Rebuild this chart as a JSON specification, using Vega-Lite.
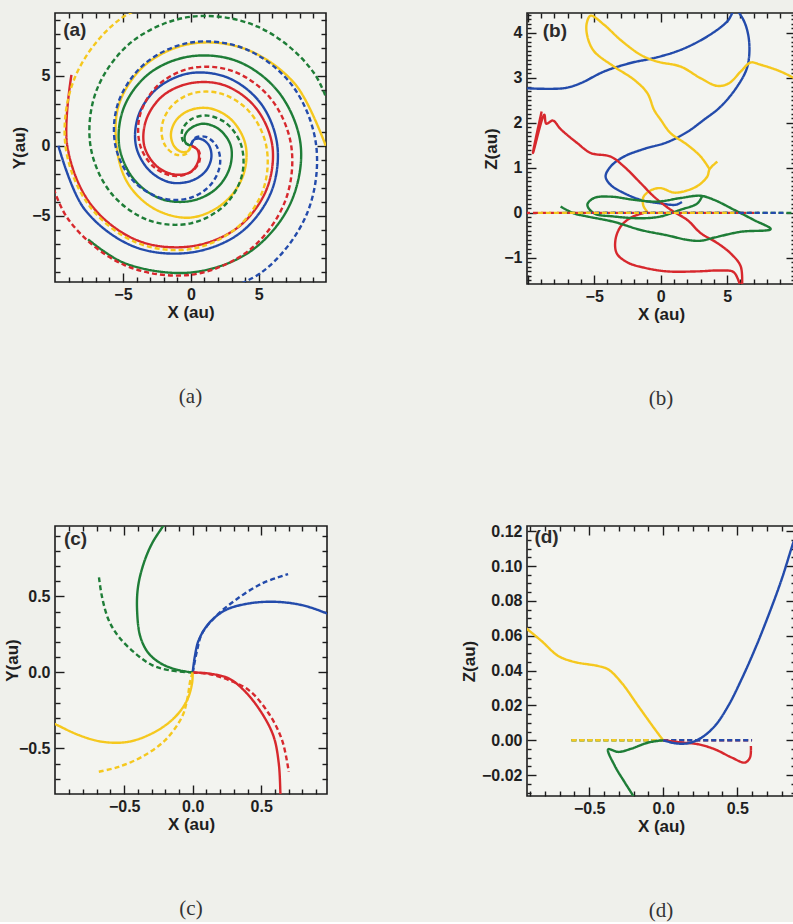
{
  "$schema": "https://vega.github.io/schema/vega-lite/v6.json",
  "background": "#eff0eb",
  "padding": {"left": 2, "top": 6, "right": 0, "bottom": 0},
  "columns": 2,
  "spacing": {"row": 112, "column": 130},
  "config": {
    "view": {"stroke": "#1c1c1c", "strokeWidth": 1.6, "fill": "#f3f4f0"},
    "axis": {
      "domain": false, "grid": false, "tickColor": "#1c1c1c", "tickWidth": 1.4,
      "labelFont": "Liberation Sans", "labelFontWeight": "bold", "labelFontSize": 16, "labelColor": "#1f1f1f",
      "labelPadding": 13, "labelFlush": false, "labelOverlap": false,
      "titleFont": "Liberation Sans", "titleFontWeight": "bold", "titleFontSize": 17, "titleColor": "#1f1f1f"
    },
    "axisX": {"titlePadding": -2},
    "axisY": {"titlePadding": 3, "labelPadding": 14},
    "line": {"strokeWidth": 2.4, "interpolate": "catmull-rom", "strokeCap": "butt"},
    "title": {"font": "Liberation Serif", "fontSize": 21, "fontWeight": "normal", "color": "#333333"},
    "text": {"font": "Liberation Sans", "fontWeight": "bold", "fontSize": 19, "color": "#2b2b2b"}
  },
  "datasets": {
    "xyWide": [
      {"track":"rs","color":"red","kind":"model","step":0,"x":0,"y":0},
      {"track":"rs","color":"red","kind":"model","step":1,"x":0.476,"y":-0.275},
      {"track":"rs","color":"red","kind":"model","step":2,"x":0.575,"y":-0.996},
      {"track":"rs","color":"red","kind":"model","step":3,"x":0,"y":-1.86},
      {"track":"rs","color":"red","kind":"model","step":4,"x":-1.19,"y":-2.061},
      {"track":"rs","color":"red","kind":"model","step":5,"x":-2.52,"y":-1.455},
      {"track":"rs","color":"red","kind":"model","step":6,"x":-3.43,"y":0},
      {"track":"rs","color":"red","kind":"model","step":7,"x":-3.273,"y":1.89},
      {"track":"rs","color":"red","kind":"model","step":8,"x":-2.065,"y":3.577},
      {"track":"rs","color":"red","kind":"model","step":9,"x":0,"y":4.48},
      {"track":"rs","color":"red","kind":"model","step":10,"x":2.495,"y":4.321},
      {"track":"rs","color":"red","kind":"model","step":11,"x":4.754,"y":2.745},
      {"track":"rs","color":"red","kind":"model","step":12,"x":6,"y":0},
      {"track":"rs","color":"red","kind":"model","step":13,"x":5.542,"y":-3.2},
      {"track":"rs","color":"red","kind":"model","step":14,"x":3.4,"y":-5.889},
      {"track":"rs","color":"red","kind":"model","step":15,"x":0,"y":-7.2},
      {"track":"rs","color":"red","kind":"model","step":16,"x":-3.915,"y":-6.781},
      {"track":"rs","color":"red","kind":"model","step":17,"x":-7.335,"y":-4.235},
      {"track":"rs","color":"red","kind":"model","step":18,"x":-9.1,"y":0},
      {"track":"rs","color":"red","kind":"model","step":19,"x":-8.79,"y":5.075},

      {"track":"bs","color":"blue","kind":"model","step":0,"x":0,"y":0},
      {"track":"bs","color":"blue","kind":"model","step":1,"x":0.26,"y":0.45},
      {"track":"bs","color":"blue","kind":"model","step":2,"x":0.805,"y":0.465},
      {"track":"bs","color":"blue","kind":"model","step":3,"x":1.35,"y":0},
      {"track":"bs","color":"blue","kind":"model","step":4,"x":1.507,"y":-0.87},
      {"track":"bs","color":"blue","kind":"model","step":5,"x":1.065,"y":-1.845},
      {"track":"bs","color":"blue","kind":"model","step":6,"x":0,"y":-2.52},
      {"track":"bs","color":"blue","kind":"model","step":7,"x":-1.515,"y":-2.624},
      {"track":"bs","color":"blue","kind":"model","step":8,"x":-3.057,"y":-1.765},
      {"track":"bs","color":"blue","kind":"model","step":9,"x":-4.04,"y":0},
      {"track":"bs","color":"blue","kind":"model","step":10,"x":-3.836,"y":2.215},
      {"track":"bs","color":"blue","kind":"model","step":11,"x":-2.405,"y":4.165},
      {"track":"bs","color":"blue","kind":"model","step":12,"x":0,"y":5.2},
      {"track":"bs","color":"blue","kind":"model","step":13,"x":2.795,"y":4.841},
      {"track":"bs","color":"blue","kind":"model","step":14,"x":5.179,"y":2.99},
      {"track":"bs","color":"blue","kind":"model","step":15,"x":6.37,"y":0},
      {"track":"bs","color":"blue","kind":"model","step":16,"x":5.88,"y":-3.395},
      {"track":"bs","color":"blue","kind":"model","step":17,"x":3.61,"y":-6.253},
      {"track":"bs","color":"blue","kind":"model","step":18,"x":0,"y":-7.64},
      {"track":"bs","color":"blue","kind":"model","step":19,"x":-4.17,"y":-7.223},
      {"track":"bs","color":"blue","kind":"model","step":20,"x":-7.837,"y":-4.525},
      {"track":"bs","color":"blue","kind":"model","step":21,"x":-9.75,"y":0},

      {"track":"gs","color":"green","kind":"model","step":0,"x":0,"y":0},
      {"track":"gs","color":"green","kind":"model","step":1,"x":-0.39,"y":0.225},
      {"track":"gs","color":"green","kind":"model","step":2,"x":-0.43,"y":0.745},
      {"track":"gs","color":"green","kind":"model","step":3,"x":0,"y":1.26},
      {"track":"gs","color":"green","kind":"model","step":4,"x":0.91,"y":1.576},
      {"track":"gs","color":"green","kind":"model","step":5,"x":2.061,"y":1.19},
      {"track":"gs","color":"green","kind":"model","step":6,"x":2.94,"y":0},
      {"track":"gs","color":"green","kind":"model","step":7,"x":2.84,"y":-1.64},
      {"track":"gs","color":"green","kind":"model","step":8,"x":1.805,"y":-3.126},
      {"track":"gs","color":"green","kind":"model","step":9,"x":0,"y":-3.95},
      {"track":"gs","color":"green","kind":"model","step":10,"x":-2.195,"y":-3.802},
      {"track":"gs","color":"green","kind":"model","step":11,"x":-4.183,"y":-2.415},
      {"track":"gs","color":"green","kind":"model","step":12,"x":-5.27,"y":0},
      {"track":"gs","color":"green","kind":"model","step":13,"x":-4.893,"y":2.825},
      {"track":"gs","color":"green","kind":"model","step":14,"x":-3.01,"y":5.213},
      {"track":"gs","color":"green","kind":"model","step":15,"x":0,"y":6.4},
      {"track":"gs","color":"green","kind":"model","step":16,"x":3.48,"y":6.027},
      {"track":"gs","color":"green","kind":"model","step":17,"x":6.521,"y":3.765},
      {"track":"gs","color":"green","kind":"model","step":18,"x":8.09,"y":0},
      {"track":"gs","color":"green","kind":"model","step":19,"x":7.292,"y":-4.21},
      {"track":"gs","color":"green","kind":"model","step":20,"x":4.37,"y":-7.569},
      {"track":"gs","color":"green","kind":"model","step":21,"x":0,"y":-9.07},
      {"track":"gs","color":"green","kind":"model","step":22,"x":-4.855,"y":-8.409},
      {"track":"gs","color":"green","kind":"model","step":23,"x":-7.56,"y":-6.7},

      {"track":"ys","color":"yellow","kind":"model","step":0,"x":0,"y":0},
      {"track":"ys","color":"yellow","kind":"model","step":1,"x":-0.225,"y":-0.39},
      {"track":"ys","color":"yellow","kind":"model","step":2,"x":-0.736,"y":-0.425},
      {"track":"ys","color":"yellow","kind":"model","step":3,"x":-1.25,"y":0},
      {"track":"ys","color":"yellow","kind":"model","step":4,"x":-1.464,"y":0.845},
      {"track":"ys","color":"yellow","kind":"model","step":5,"x":-1.065,"y":1.845},
      {"track":"ys","color":"yellow","kind":"model","step":6,"x":0,"y":2.57},
      {"track":"ys","color":"yellow","kind":"model","step":7,"x":1.53,"y":2.65},
      {"track":"ys","color":"yellow","kind":"model","step":8,"x":3.074,"y":1.775},
      {"track":"ys","color":"yellow","kind":"model","step":9,"x":4.04,"y":0},
      {"track":"ys","color":"yellow","kind":"model","step":10,"x":3.819,"y":-2.205},
      {"track":"ys","color":"yellow","kind":"model","step":11,"x":2.385,"y":-4.131},
      {"track":"ys","color":"yellow","kind":"model","step":12,"x":0,"y":-5.14},
      {"track":"ys","color":"yellow","kind":"model","step":13,"x":-2.625,"y":-4.547},
      {"track":"ys","color":"yellow","kind":"model","step":14,"x":-4.642,"y":-2.68},
      {"track":"ys","color":"yellow","kind":"model","step":15,"x":-5.47,"y":0},
      {"track":"ys","color":"yellow","kind":"model","step":16,"x":-5.265,"y":3.04},
      {"track":"ys","color":"yellow","kind":"model","step":17,"x":-3.345,"y":5.794},
      {"track":"ys","color":"yellow","kind":"model","step":18,"x":0,"y":7.3},
      {"track":"ys","color":"yellow","kind":"model","step":19,"x":4,"y":6.928},
      {"track":"ys","color":"yellow","kind":"model","step":20,"x":7.664,"y":4.425},
      {"track":"ys","color":"yellow","kind":"model","step":21,"x":9.93,"y":0},

      {"track":"rd","color":"red","kind":"parker","step":0,"x":0.04,"y":0},
      {"track":"rd","color":"red","kind":"parker","step":1,"x":0.563,"y":-0.325},
      {"track":"rd","color":"red","kind":"parker","step":2,"x":0.635,"y":-1.1},
      {"track":"rd","color":"red","kind":"parker","step":3,"x":0,"y":-1.88},
      {"track":"rd","color":"red","kind":"parker","step":4,"x":-1.245,"y":-2.156},
      {"track":"rd","color":"red","kind":"parker","step":5,"x":-2.685,"y":-1.55},
      {"track":"rd","color":"red","kind":"parker","step":6,"x":-3.72,"y":0},
      {"track":"rd","color":"red","kind":"parker","step":7,"x":-3.75,"y":2.165},
      {"track":"rd","color":"red","kind":"parker","step":8,"x":-2.47,"y":4.278},
      {"track":"rd","color":"red","kind":"parker","step":9,"x":0,"y":5.55},
      {"track":"rd","color":"red","kind":"parker","step":10,"x":3.085,"y":5.343},
      {"track":"rd","color":"red","kind":"parker","step":11,"x":5.872,"y":3.39},
      {"track":"rd","color":"red","kind":"parker","step":12,"x":7.39,"y":0},
      {"track":"rd","color":"red","kind":"parker","step":13,"x":6.928,"y":-4},
      {"track":"rd","color":"red","kind":"parker","step":14,"x":4.31,"y":-7.465},
      {"track":"rd","color":"red","kind":"parker","step":15,"x":0,"y":-9.23},
      {"track":"rd","color":"red","kind":"parker","step":16,"x":-4.92,"y":-8.522},
      {"track":"rd","color":"red","kind":"parker","step":17,"x":-9.05,"y":-5.225},
      {"track":"rd","color":"red","kind":"parker","step":18,"x":-11.07,"y":0},

      {"track":"bd","color":"blue","kind":"parker","step":0,"x":0,"y":0.04},
      {"track":"bd","color":"blue","kind":"parker","step":1,"x":0.325,"y":0.563},
      {"track":"bd","color":"blue","kind":"parker","step":2,"x":1.1,"y":0.635},
      {"track":"bd","color":"blue","kind":"parker","step":3,"x":1.88,"y":0},
      {"track":"bd","color":"blue","kind":"parker","step":4,"x":2.156,"y":-1.245},
      {"track":"bd","color":"blue","kind":"parker","step":5,"x":1.55,"y":-2.685},
      {"track":"bd","color":"blue","kind":"parker","step":6,"x":0,"y":-3.72},
      {"track":"bd","color":"blue","kind":"parker","step":7,"x":-2.165,"y":-3.75},
      {"track":"bd","color":"blue","kind":"parker","step":8,"x":-4.278,"y":-2.47},
      {"track":"bd","color":"blue","kind":"parker","step":9,"x":-5.55,"y":0},
      {"track":"bd","color":"blue","kind":"parker","step":10,"x":-5.343,"y":3.085},
      {"track":"bd","color":"blue","kind":"parker","step":11,"x":-3.39,"y":5.872},
      {"track":"bd","color":"blue","kind":"parker","step":12,"x":0,"y":7.39},
      {"track":"bd","color":"blue","kind":"parker","step":13,"x":4,"y":6.928},
      {"track":"bd","color":"blue","kind":"parker","step":14,"x":7.465,"y":4.31},
      {"track":"bd","color":"blue","kind":"parker","step":15,"x":9.23,"y":0},
      {"track":"bd","color":"blue","kind":"parker","step":16,"x":8.522,"y":-4.92},
      {"track":"bd","color":"blue","kind":"parker","step":17,"x":5.225,"y":-9.05},
      {"track":"bd","color":"blue","kind":"parker","step":18,"x":0,"y":-11.07},

      {"track":"gd","color":"green","kind":"parker","step":0,"x":-0.04,"y":0},
      {"track":"gd","color":"green","kind":"parker","step":1,"x":-0.563,"y":0.325},
      {"track":"gd","color":"green","kind":"parker","step":2,"x":-0.635,"y":1.1},
      {"track":"gd","color":"green","kind":"parker","step":3,"x":0,"y":1.88},
      {"track":"gd","color":"green","kind":"parker","step":4,"x":1.245,"y":2.156},
      {"track":"gd","color":"green","kind":"parker","step":5,"x":2.685,"y":1.55},
      {"track":"gd","color":"green","kind":"parker","step":6,"x":3.72,"y":0},
      {"track":"gd","color":"green","kind":"parker","step":7,"x":3.75,"y":-2.165},
      {"track":"gd","color":"green","kind":"parker","step":8,"x":2.47,"y":-4.278},
      {"track":"gd","color":"green","kind":"parker","step":9,"x":0,"y":-5.55},
      {"track":"gd","color":"green","kind":"parker","step":10,"x":-3.085,"y":-5.343},
      {"track":"gd","color":"green","kind":"parker","step":11,"x":-5.872,"y":-3.39},
      {"track":"gd","color":"green","kind":"parker","step":12,"x":-7.39,"y":0},
      {"track":"gd","color":"green","kind":"parker","step":13,"x":-6.928,"y":4},
      {"track":"gd","color":"green","kind":"parker","step":14,"x":-4.31,"y":7.465},
      {"track":"gd","color":"green","kind":"parker","step":15,"x":0,"y":9.23},
      {"track":"gd","color":"green","kind":"parker","step":16,"x":4.92,"y":8.522},
      {"track":"gd","color":"green","kind":"parker","step":17,"x":9.05,"y":5.225},
      {"track":"gd","color":"green","kind":"parker","step":18,"x":11.07,"y":0},

      {"track":"yd","color":"yellow","kind":"parker","step":0,"x":0,"y":-0.04},
      {"track":"yd","color":"yellow","kind":"parker","step":1,"x":-0.325,"y":-0.563},
      {"track":"yd","color":"yellow","kind":"parker","step":2,"x":-1.1,"y":-0.635},
      {"track":"yd","color":"yellow","kind":"parker","step":3,"x":-1.88,"y":0},
      {"track":"yd","color":"yellow","kind":"parker","step":4,"x":-2.156,"y":1.245},
      {"track":"yd","color":"yellow","kind":"parker","step":5,"x":-1.55,"y":2.685},
      {"track":"yd","color":"yellow","kind":"parker","step":6,"x":0,"y":3.72},
      {"track":"yd","color":"yellow","kind":"parker","step":7,"x":2.165,"y":3.75},
      {"track":"yd","color":"yellow","kind":"parker","step":8,"x":4.278,"y":2.47},
      {"track":"yd","color":"yellow","kind":"parker","step":9,"x":5.55,"y":0},
      {"track":"yd","color":"yellow","kind":"parker","step":10,"x":5.343,"y":-3.085},
      {"track":"yd","color":"yellow","kind":"parker","step":11,"x":3.39,"y":-5.872},
      {"track":"yd","color":"yellow","kind":"parker","step":12,"x":0,"y":-7.39},
      {"track":"yd","color":"yellow","kind":"parker","step":13,"x":-4,"y":-6.928},
      {"track":"yd","color":"yellow","kind":"parker","step":14,"x":-7.465,"y":-4.31},
      {"track":"yd","color":"yellow","kind":"parker","step":15,"x":-9.23,"y":0},
      {"track":"yd","color":"yellow","kind":"parker","step":16,"x":-8.522,"y":4.92},
      {"track":"yd","color":"yellow","kind":"parker","step":17,"x":-5.225,"y":9.05},
      {"track":"yd","color":"yellow","kind":"parker","step":18,"x":0,"y":11.07}
    ],
    "xzWide": [
      {"track":"b","color":"blue","kind":"model","step":0,"x":1.6,"z":0.24},
      {"track":"b","color":"blue","kind":"model","step":1,"x":1.13,"z":0.18},
      {"track":"b","color":"blue","kind":"model","step":2,"x":0,"z":0.21},
      {"track":"b","color":"blue","kind":"model","step":3,"x":-1.5,"z":0.29},
      {"track":"b","color":"blue","kind":"model","step":4,"x":-2.76,"z":0.44},
      {"track":"b","color":"blue","kind":"model","step":5,"x":-3.76,"z":0.62},
      {"track":"b","color":"blue","kind":"model","step":6,"x":-4.14,"z":0.81},
      {"track":"b","color":"blue","kind":"model","step":7,"x":-3.76,"z":1.03},
      {"track":"b","color":"blue","kind":"model","step":8,"x":-2.76,"z":1.25},
      {"track":"b","color":"blue","kind":"model","step":9,"x":-1.25,"z":1.42},
      {"track":"b","color":"blue","kind":"model","step":10,"x":0.5,"z":1.57},
      {"track":"b","color":"blue","kind":"model","step":11,"x":2.01,"z":1.8},
      {"track":"b","color":"blue","kind":"model","step":12,"x":3.26,"z":2.07},
      {"track":"b","color":"blue","kind":"model","step":13,"x":4.51,"z":2.36},
      {"track":"b","color":"blue","kind":"model","step":14,"x":5.76,"z":2.81},
      {"track":"b","color":"blue","kind":"model","step":15,"x":6.52,"z":3.25},
      {"track":"b","color":"blue","kind":"model","step":16,"x":6.64,"z":3.84},
      {"track":"b","color":"blue","kind":"model","step":17,"x":6.2,"z":4.3},
      {"track":"b","color":"blue","kind":"model","step":18,"x":5.6,"z":4.5},
      {"track":"b","color":"blue","kind":"model","step":19,"x":5.0,"z":4.25},
      {"track":"b","color":"blue","kind":"model","step":20,"x":3.51,"z":3.92},
      {"track":"b","color":"blue","kind":"model","step":21,"x":1.5,"z":3.62},
      {"track":"b","color":"blue","kind":"model","step":22,"x":-0.5,"z":3.44},
      {"track":"b","color":"blue","kind":"model","step":23,"x":-2.26,"z":3.33},
      {"track":"b","color":"blue","kind":"model","step":24,"x":-4.26,"z":3.14},
      {"track":"b","color":"blue","kind":"model","step":25,"x":-6.02,"z":2.88},
      {"track":"b","color":"blue","kind":"model","step":26,"x":-7.27,"z":2.77},
      {"track":"b","color":"blue","kind":"model","step":27,"x":-10.3,"z":2.77},

      {"track":"y1","color":"yellow","kind":"model","step":0,"x":-1.0,"z":0.02},
      {"track":"y1","color":"yellow","kind":"model","step":1,"x":-1.3,"z":0.16},
      {"track":"y1","color":"yellow","kind":"model","step":2,"x":-1.3,"z":0.35},
      {"track":"y1","color":"yellow","kind":"model","step":3,"x":-0.75,"z":0.5},
      {"track":"y1","color":"yellow","kind":"model","step":4,"x":0,"z":0.55},
      {"track":"y1","color":"yellow","kind":"model","step":5,"x":1.0,"z":0.45},
      {"track":"y1","color":"yellow","kind":"model","step":6,"x":2.01,"z":0.5},
      {"track":"y1","color":"yellow","kind":"model","step":7,"x":2.88,"z":0.62},
      {"track":"y1","color":"yellow","kind":"model","step":8,"x":3.51,"z":0.81},
      {"track":"y1","color":"yellow","kind":"model","step":9,"x":3.68,"z":0.97},
      {"track":"y1","color":"yellow","kind":"model","step":10,"x":4.26,"z":1.14},

      {"track":"y2","color":"yellow","kind":"model","step":0,"x":3.68,"z":0.97},
      {"track":"y2","color":"yellow","kind":"model","step":1,"x":3.01,"z":1.25},
      {"track":"y2","color":"yellow","kind":"model","step":2,"x":2.01,"z":1.51},
      {"track":"y2","color":"yellow","kind":"model","step":3,"x":0.75,"z":1.77},
      {"track":"y2","color":"yellow","kind":"model","step":4,"x":0,"z":2.07},
      {"track":"y2","color":"yellow","kind":"model","step":5,"x":-0.5,"z":2.29},
      {"track":"y2","color":"yellow","kind":"model","step":6,"x":-1.0,"z":2.66},
      {"track":"y2","color":"yellow","kind":"model","step":7,"x":-2.01,"z":2.96},
      {"track":"y2","color":"yellow","kind":"model","step":8,"x":-3.51,"z":3.25},
      {"track":"y2","color":"yellow","kind":"model","step":9,"x":-5.01,"z":3.59},
      {"track":"y2","color":"yellow","kind":"model","step":10,"x":-5.51,"z":3.92},
      {"track":"y2","color":"yellow","kind":"model","step":11,"x":-5.56,"z":4.21},
      {"track":"y2","color":"yellow","kind":"model","step":12,"x":-5.26,"z":4.38},
      {"track":"y2","color":"yellow","kind":"model","step":13,"x":-4.26,"z":4.18},
      {"track":"y2","color":"yellow","kind":"model","step":14,"x":-3.01,"z":3.84},
      {"track":"y2","color":"yellow","kind":"model","step":15,"x":-1.5,"z":3.51},
      {"track":"y2","color":"yellow","kind":"model","step":16,"x":-0.25,"z":3.36},
      {"track":"y2","color":"yellow","kind":"model","step":17,"x":1.5,"z":3.25},
      {"track":"y2","color":"yellow","kind":"model","step":18,"x":3.01,"z":2.99},
      {"track":"y2","color":"yellow","kind":"model","step":19,"x":4.26,"z":2.82},
      {"track":"y2","color":"yellow","kind":"model","step":20,"x":5.14,"z":2.88},
      {"track":"y2","color":"yellow","kind":"model","step":21,"x":6.02,"z":3.14},
      {"track":"y2","color":"yellow","kind":"model","step":22,"x":6.77,"z":3.34},
      {"track":"y2","color":"yellow","kind":"model","step":23,"x":7.52,"z":3.29},
      {"track":"y2","color":"yellow","kind":"model","step":24,"x":9.02,"z":3.14},
      {"track":"y2","color":"yellow","kind":"model","step":25,"x":10.3,"z":2.95},

      {"track":"r1","color":"red","kind":"model","step":0,"x":-8.95,"z":2.25},
      {"track":"r1","color":"red","kind":"model","step":1,"x":-9.6,"z":1.33},
      {"track":"r1","color":"red","kind":"model","step":2,"x":-8.75,"z":2.18},
      {"track":"r1","color":"red","kind":"model","step":3,"x":-8.6,"z":1.98},
      {"track":"r1","color":"red","kind":"model","step":4,"x":-8.1,"z":2.05},
      {"track":"r1","color":"red","kind":"model","step":5,"x":-7.52,"z":1.86},
      {"track":"r1","color":"red","kind":"model","step":6,"x":-6.27,"z":1.55},
      {"track":"r1","color":"red","kind":"model","step":7,"x":-5.26,"z":1.33},
      {"track":"r1","color":"red","kind":"model","step":8,"x":-3.76,"z":1.25},
      {"track":"r1","color":"red","kind":"model","step":9,"x":-2.76,"z":1.03},
      {"track":"r1","color":"red","kind":"model","step":10,"x":-1.5,"z":0.66},
      {"track":"r1","color":"red","kind":"model","step":11,"x":-0.5,"z":0.36},
      {"track":"r1","color":"red","kind":"model","step":12,"x":0.75,"z":0.07},
      {"track":"r1","color":"red","kind":"model","step":13,"x":2.01,"z":-0.16},
      {"track":"r1","color":"red","kind":"model","step":14,"x":3.01,"z":-0.45},
      {"track":"r1","color":"red","kind":"model","step":15,"x":4.26,"z":-0.67},
      {"track":"r1","color":"red","kind":"model","step":16,"x":5.26,"z":-0.9},
      {"track":"r1","color":"red","kind":"model","step":17,"x":6.02,"z":-1.19},
      {"track":"r1","color":"red","kind":"model","step":18,"x":6.1,"z":-1.75},

      {"track":"r2","color":"red","kind":"model","step":0,"x":-1.0,"z":0.02},
      {"track":"r2","color":"red","kind":"model","step":1,"x":-2.2,"z":-0.1},
      {"track":"r2","color":"red","kind":"model","step":2,"x":-3.0,"z":-0.3},
      {"track":"r2","color":"red","kind":"model","step":3,"x":-3.4,"z":-0.6},
      {"track":"r2","color":"red","kind":"model","step":4,"x":-3.3,"z":-0.9},
      {"track":"r2","color":"red","kind":"model","step":5,"x":-2.5,"z":-1.1},
      {"track":"r2","color":"red","kind":"model","step":6,"x":-1.2,"z":-1.22},
      {"track":"r2","color":"red","kind":"model","step":7,"x":0.5,"z":-1.3},
      {"track":"r2","color":"red","kind":"model","step":8,"x":2.76,"z":-1.3},
      {"track":"r2","color":"red","kind":"model","step":9,"x":4.5,"z":-1.28},
      {"track":"r2","color":"red","kind":"model","step":10,"x":5.5,"z":-1.32},
      {"track":"r2","color":"red","kind":"model","step":11,"x":6.1,"z":-1.75},

      {"track":"g","color":"green","kind":"model","step":0,"x":-7.52,"z":0.14},
      {"track":"g","color":"green","kind":"model","step":1,"x":-6.52,"z":-0.01},
      {"track":"g","color":"green","kind":"model","step":2,"x":-5.51,"z":-0.08},
      {"track":"g","color":"green","kind":"model","step":3,"x":-3.51,"z":-0.2},
      {"track":"g","color":"green","kind":"model","step":4,"x":-1.5,"z":-0.38},
      {"track":"g","color":"green","kind":"model","step":5,"x":0.5,"z":-0.5},
      {"track":"g","color":"green","kind":"model","step":6,"x":2.01,"z":-0.6},
      {"track":"g","color":"green","kind":"model","step":7,"x":3.0,"z":-0.62},
      {"track":"g","color":"green","kind":"model","step":8,"x":4.01,"z":-0.55},
      {"track":"g","color":"green","kind":"model","step":9,"x":6.02,"z":-0.42},
      {"track":"g","color":"green","kind":"model","step":10,"x":8.27,"z":-0.36},
      {"track":"g","color":"green","kind":"model","step":11,"x":7.02,"z":-0.16},
      {"track":"g","color":"green","kind":"model","step":12,"x":5.51,"z":0.07},
      {"track":"g","color":"green","kind":"model","step":13,"x":4.01,"z":0.29},
      {"track":"g","color":"green","kind":"model","step":14,"x":3.01,"z":0.38},
      {"track":"g","color":"green","kind":"model","step":15,"x":1.5,"z":0.33},
      {"track":"g","color":"green","kind":"model","step":16,"x":-0.25,"z":0.25},
      {"track":"g","color":"green","kind":"model","step":17,"x":-2.01,"z":0.29},
      {"track":"g","color":"green","kind":"model","step":18,"x":-3.76,"z":0.36},
      {"track":"g","color":"green","kind":"model","step":19,"x":-5.01,"z":0.33},
      {"track":"g","color":"green","kind":"model","step":20,"x":-5.51,"z":0.18},
      {"track":"g","color":"green","kind":"model","step":21,"x":-5.01,"z":-0.01},
      {"track":"g","color":"green","kind":"model","step":22,"x":-3.51,"z":-0.08},
      {"track":"g","color":"green","kind":"model","step":23,"x":-1.5,"z":-0.12},
      {"track":"g","color":"green","kind":"model","step":24,"x":0,"z":-0.08},
      {"track":"g","color":"green","kind":"model","step":25,"x":1.5,"z":0.07},
      {"track":"g","color":"green","kind":"model","step":26,"x":2.76,"z":0.21},
      {"track":"g","color":"green","kind":"model","step":27,"x":3.13,"z":0.38},

      {"track":"rp","color":"red","kind":"parker","step":0,"x":-10.2,"z":0},
      {"track":"rp","color":"red","kind":"parker","step":1,"x":7.39,"z":0},
      {"track":"gp","color":"green","kind":"parker","step":0,"x":-7.39,"z":0},
      {"track":"gp","color":"green","kind":"parker","step":1,"x":10.2,"z":0},
      {"track":"bp","color":"blue","kind":"parker","step":0,"x":-5.55,"z":0},
      {"track":"bp","color":"blue","kind":"parker","step":1,"x":9.23,"z":0},
      {"track":"yp","color":"yellow","kind":"parker","step":0,"x":-9.23,"z":0},
      {"track":"yp","color":"yellow","kind":"parker","step":1,"x":5.55,"z":0}
    ],
    "xyInner": [
      {"track":"bs","color":"blue","kind":"model","step":0,"x":0,"y":0},
      {"track":"bs","color":"blue","kind":"model","step":1,"x":0.015,"y":0.103},
      {"track":"bs","color":"blue","kind":"model","step":2,"x":0.044,"y":0.213},
      {"track":"bs","color":"blue","kind":"model","step":3,"x":0.117,"y":0.322},
      {"track":"bs","color":"blue","kind":"model","step":4,"x":0.238,"y":0.41},
      {"track":"bs","color":"blue","kind":"model","step":5,"x":0.409,"y":0.454},
      {"track":"bs","color":"blue","kind":"model","step":6,"x":0.603,"y":0.465},
      {"track":"bs","color":"blue","kind":"model","step":7,"x":0.798,"y":0.443},
      {"track":"bs","color":"blue","kind":"model","step":8,"x":0.981,"y":0.388},
      {"track":"bs","color":"blue","kind":"model","step":9,"x":1.05,"y":0.36},
      {"track":"rs","color":"red","kind":"model","step":0,"x":0,"y":0},
      {"track":"rs","color":"red","kind":"model","step":1,"x":0.117,"y":-0.007},
      {"track":"rs","color":"red","kind":"model","step":2,"x":0.263,"y":-0.039},
      {"track":"rs","color":"red","kind":"model","step":3,"x":0.384,"y":-0.127},
      {"track":"rs","color":"red","kind":"model","step":4,"x":0.506,"y":-0.27},
      {"track":"rs","color":"red","kind":"model","step":5,"x":0.591,"y":-0.423},
      {"track":"rs","color":"red","kind":"model","step":6,"x":0.628,"y":-0.599},
      {"track":"rs","color":"red","kind":"model","step":7,"x":0.64,"y":-0.796},
      {"track":"rs","color":"red","kind":"model","step":8,"x":0.642,"y":-0.85},
      {"track":"gs","color":"green","kind":"model","step":0,"x":0,"y":0},
      {"track":"gs","color":"green","kind":"model","step":1,"x":-0.102,"y":0.015},
      {"track":"gs","color":"green","kind":"model","step":2,"x":-0.224,"y":0.055},
      {"track":"gs","color":"green","kind":"model","step":3,"x":-0.321,"y":0.125},
      {"track":"gs","color":"green","kind":"model","step":4,"x":-0.382,"y":0.235},
      {"track":"gs","color":"green","kind":"model","step":5,"x":-0.406,"y":0.41},
      {"track":"gs","color":"green","kind":"model","step":6,"x":-0.399,"y":0.564},
      {"track":"gs","color":"green","kind":"model","step":7,"x":-0.358,"y":0.717},
      {"track":"gs","color":"green","kind":"model","step":8,"x":-0.297,"y":0.849},
      {"track":"gs","color":"green","kind":"model","step":9,"x":-0.212,"y":0.969},
      {"track":"gs","color":"green","kind":"model","step":10,"x":-0.19,"y":1.0},
      {"track":"ys","color":"yellow","kind":"model","step":0,"x":0,"y":0},
      {"track":"ys","color":"yellow","kind":"model","step":1,"x":-0.005,"y":-0.072},
      {"track":"ys","color":"yellow","kind":"model","step":2,"x":-0.041,"y":-0.182},
      {"track":"ys","color":"yellow","kind":"model","step":3,"x":-0.127,"y":-0.292},
      {"track":"ys","color":"yellow","kind":"model","step":4,"x":-0.273,"y":-0.39},
      {"track":"ys","color":"yellow","kind":"model","step":5,"x":-0.467,"y":-0.456},
      {"track":"ys","color":"yellow","kind":"model","step":6,"x":-0.662,"y":-0.456},
      {"track":"ys","color":"yellow","kind":"model","step":7,"x":-0.832,"y":-0.412},
      {"track":"ys","color":"yellow","kind":"model","step":8,"x":-0.99,"y":-0.346},
      {"track":"ys","color":"yellow","kind":"model","step":9,"x":-1.05,"y":-0.32},
      {"track":"bd","color":"blue","kind":"parker","step":0,"x":0,"y":0},
      {"track":"bd","color":"blue","kind":"parker","step":1,"x":0.032,"y":0.147},
      {"track":"bd","color":"blue","kind":"parker","step":2,"x":0.068,"y":0.257},
      {"track":"bd","color":"blue","kind":"parker","step":3,"x":0.165,"y":0.366},
      {"track":"bd","color":"blue","kind":"parker","step":4,"x":0.311,"y":0.476},
      {"track":"bd","color":"blue","kind":"parker","step":5,"x":0.506,"y":0.586},
      {"track":"bd","color":"blue","kind":"parker","step":6,"x":0.696,"y":0.647},
      {"track":"rd","color":"red","kind":"parker","step":0,"x":0,"y":0},
      {"track":"rd","color":"red","kind":"parker","step":1,"x":0.12,"y":-0.01},
      {"track":"rd","color":"red","kind":"parker","step":2,"x":0.263,"y":-0.05},
      {"track":"rd","color":"red","kind":"parker","step":3,"x":0.409,"y":-0.116},
      {"track":"rd","color":"red","kind":"parker","step":4,"x":0.555,"y":-0.27},
      {"track":"rd","color":"red","kind":"parker","step":5,"x":0.652,"y":-0.445},
      {"track":"rd","color":"red","kind":"parker","step":6,"x":0.701,"y":-0.654},
      {"track":"gd","color":"green","kind":"parker","step":0,"x":0,"y":0},
      {"track":"gd","color":"green","kind":"parker","step":1,"x":-0.175,"y":0.015},
      {"track":"gd","color":"green","kind":"parker","step":2,"x":-0.297,"y":0.048},
      {"track":"gd","color":"green","kind":"parker","step":3,"x":-0.418,"y":0.125},
      {"track":"gd","color":"green","kind":"parker","step":4,"x":-0.54,"y":0.235},
      {"track":"gd","color":"green","kind":"parker","step":5,"x":-0.613,"y":0.344},
      {"track":"gd","color":"green","kind":"parker","step":6,"x":-0.662,"y":0.498},
      {"track":"gd","color":"green","kind":"parker","step":7,"x":-0.686,"y":0.64},
      {"track":"yd","color":"yellow","kind":"parker","step":0,"x":0,"y":0},
      {"track":"yd","color":"yellow","kind":"parker","step":1,"x":-0.017,"y":-0.05},
      {"track":"yd","color":"yellow","kind":"parker","step":2,"x":-0.041,"y":-0.182},
      {"track":"yd","color":"yellow","kind":"parker","step":3,"x":-0.078,"y":-0.292},
      {"track":"yd","color":"yellow","kind":"parker","step":4,"x":-0.2,"y":-0.445},
      {"track":"yd","color":"yellow","kind":"parker","step":5,"x":-0.37,"y":-0.555},
      {"track":"yd","color":"yellow","kind":"parker","step":6,"x":-0.54,"y":-0.621},
      {"track":"yd","color":"yellow","kind":"parker","step":7,"x":-0.686,"y":-0.654}
    ],
    "xzInner": [
      {"track":"gp","color":"green","kind":"parker","step":0,"x":-0.62,"z":0},
      {"track":"gp","color":"green","kind":"parker","step":1,"x":0,"z":0},
      {"track":"rp","color":"red","kind":"parker","step":0,"x":0,"z":0},
      {"track":"rp","color":"red","kind":"parker","step":1,"x":0.6,"z":0},
      {"track":"yp","color":"yellow","kind":"parker","step":0,"x":-0.62,"z":0},
      {"track":"yp","color":"yellow","kind":"parker","step":1,"x":0,"z":0},
      {"track":"bp","color":"blue","kind":"parker","step":0,"x":0,"z":0},
      {"track":"bp","color":"blue","kind":"parker","step":1,"x":0.6,"z":0},
      {"track":"ys","color":"yellow","kind":"model","step":0,"x":-0.95,"z":0.066},
      {"track":"ys","color":"yellow","kind":"model","step":1,"x":-0.822,"z":0.057},
      {"track":"ys","color":"yellow","kind":"model","step":2,"x":-0.709,"z":0.0484},
      {"track":"ys","color":"yellow","kind":"model","step":3,"x":-0.597,"z":0.0449},
      {"track":"ys","color":"yellow","kind":"model","step":4,"x":-0.439,"z":0.0426},
      {"track":"ys","color":"yellow","kind":"model","step":5,"x":-0.372,"z":0.0407},
      {"track":"ys","color":"yellow","kind":"model","step":6,"x":-0.282,"z":0.0331},
      {"track":"ys","color":"yellow","kind":"model","step":7,"x":-0.169,"z":0.0197},
      {"track":"ys","color":"yellow","kind":"model","step":8,"x":-0.056,"z":0.0063},
      {"track":"ys","color":"yellow","kind":"model","step":9,"x":0,"z":0},
      {"track":"gs","color":"green","kind":"model","step":0,"x":0,"z":0},
      {"track":"gs","color":"green","kind":"model","step":1,"x":-0.101,"z":-0.0013},
      {"track":"gs","color":"green","kind":"model","step":2,"x":-0.214,"z":-0.0048},
      {"track":"gs","color":"green","kind":"model","step":3,"x":-0.304,"z":-0.0067},
      {"track":"gs","color":"green","kind":"model","step":4,"x":-0.372,"z":-0.0052},
      {"track":"gs","color":"green","kind":"model","step":5,"x":-0.327,"z":-0.0147},
      {"track":"gs","color":"green","kind":"model","step":6,"x":-0.259,"z":-0.0243},
      {"track":"gs","color":"green","kind":"model","step":7,"x":-0.203,"z":-0.0319},
      {"track":"gs","color":"green","kind":"model","step":8,"x":-0.19,"z":-0.034},
      {"track":"rs","color":"red","kind":"model","step":0,"x":0,"z":0},
      {"track":"rs","color":"red","kind":"model","step":1,"x":0.124,"z":-0.0013},
      {"track":"rs","color":"red","kind":"model","step":2,"x":0.236,"z":-0.0023},
      {"track":"rs","color":"red","kind":"model","step":3,"x":0.349,"z":-0.0052},
      {"track":"rs","color":"red","kind":"model","step":4,"x":0.462,"z":-0.0099},
      {"track":"rs","color":"red","kind":"model","step":5,"x":0.552,"z":-0.0128},
      {"track":"rs","color":"red","kind":"model","step":6,"x":0.586,"z":-0.0099},
      {"track":"rs","color":"red","kind":"model","step":7,"x":0.592,"z":-0.0033},
      {"track":"bs","color":"blue","kind":"model","step":0,"x":0,"z":0},
      {"track":"bs","color":"blue","kind":"model","step":1,"x":0.079,"z":-0.0017},
      {"track":"bs","color":"blue","kind":"model","step":2,"x":0.169,"z":-0.0017},
      {"track":"bs","color":"blue","kind":"model","step":3,"x":0.259,"z":0.0015},
      {"track":"bs","color":"blue","kind":"model","step":4,"x":0.349,"z":0.0082},
      {"track":"bs","color":"blue","kind":"model","step":5,"x":0.439,"z":0.0197},
      {"track":"bs","color":"blue","kind":"model","step":6,"x":0.529,"z":0.035},
      {"track":"bs","color":"blue","kind":"model","step":7,"x":0.619,"z":0.0522},
      {"track":"bs","color":"blue","kind":"model","step":8,"x":0.709,"z":0.0713},
      {"track":"bs","color":"blue","kind":"model","step":9,"x":0.8,"z":0.0924},
      {"track":"bs","color":"blue","kind":"model","step":10,"x":0.878,"z":0.1134},
      {"track":"bs","color":"blue","kind":"model","step":11,"x":0.91,"z":0.121}
    ]
  },
  "concat": [
    {
      "width": 271, "height": 269,
      "title": {"text": "(a)", "orient": "bottom", "offset": 66},
      "resolve": {"axis": {"x": "independent", "y": "independent"}},
      "layer": [
        {
          "data": {"name": "xyWide"},
          "mark": {"type": "line", "clip": true},
          "encoding": {
            "x": {"field": "x", "type": "quantitative", "scale": {"domain": [-10, 9.95], "nice": false, "zero": false},
              "axis": {"orient": "bottom", "title": "X (au)", "format": "d", "values": [-9,-8,-7,-6,-5,-4,-3,-2,-1,0,1,2,3,4,5,6,7,8,9],
                "tickSize": {"condition": {"test": "datum.value % 5 === 0", "value": -9}, "value": -5},
                "labelExpr": "datum.value % 5 === 0 ? datum.label : ''"}},
            "y": {"field": "y", "type": "quantitative", "scale": {"domain": [-9.75, 9.5], "nice": false, "zero": false},
              "axis": {"orient": "left", "title": "Y(au)", "format": "d", "values": [-9,-8,-7,-6,-5,-4,-3,-2,-1,0,1,2,3,4,5,6,7,8,9],
                "tickSize": {"condition": {"test": "datum.value % 5 === 0", "value": -9}, "value": -5},
                "labelExpr": "datum.value % 5 === 0 ? datum.label : ''"}},
            "color": {"field": "color", "type": "nominal", "scale": {"domain": ["red","blue","green","yellow"], "range": ["#d7282d","#234bab","#1e7d37","#f5c81e"]}, "legend": null},
            "strokeDash": {"field": "kind", "type": "nominal", "scale": {"domain": ["model","parker"], "range": [[1,0],[5,3]]}, "legend": null},
            "detail": {"field": "track", "type": "nominal"},
            "order": {"field": "step", "type": "quantitative"}
          }
        },
        {
          "data": {"name": "xyWide"},
          "mark": {"type": "point", "opacity": 0, "clip": true},
          "encoding": {
            "x": {"field": "x", "type": "quantitative", "scale": {"domain": [-10, 9.95], "nice": false, "zero": false},
              "axis": {"orient": "top", "labels": false, "title": null, "values": [-9,-8,-7,-6,-5,-4,-3,-2,-1,0,1,2,3,4,5,6,7,8,9],
                "tickSize": {"condition": {"test": "datum.value % 5 === 0", "value": -9}, "value": -5}}},
            "y": {"field": "y", "type": "quantitative", "scale": {"domain": [-9.75, 9.5], "nice": false, "zero": false},
              "axis": {"orient": "right", "labels": false, "title": null, "values": [-9,-8,-7,-6,-5,-4,-3,-2,-1,0,1,2,3,4,5,6,7,8,9],
                "tickSize": {"condition": {"test": "datum.value % 5 === 0", "value": -9}, "value": -5}}}
          }
        },
        {
          "data": {"values": [{"label": "(a)"}]},
          "mark": {"type": "text", "align": "left", "baseline": "middle"},
          "encoding": {
            "x": {"datum": -9.4, "type": "quantitative", "axis": null},
            "y": {"datum": 8.3, "type": "quantitative", "axis": null},
            "text": {"field": "label"}
          }
        }
      ]
    },
    {
      "width": 268, "height": 271,
      "title": {"text": "(b)", "orient": "bottom", "offset": 66},
      "resolve": {"axis": {"x": "independent", "y": "independent"}},
      "layer": [
        {
          "data": {"name": "xzWide"},
          "mark": {"type": "line", "clip": true},
          "encoding": {
            "x": {"field": "x", "type": "quantitative", "scale": {"domain": [-10.05, 10.1], "nice": false, "zero": false},
              "axis": {"orient": "bottom", "title": "X (au)", "format": "d", "values": [-10,-9,-8,-7,-6,-5,-4,-3,-2,-1,0,1,2,3,4,5,6,7,8,9,10],
                "tickSize": {"condition": {"test": "datum.value % 5 === 0", "value": -9}, "value": -5},
                "labelExpr": "abs(datum.value) < 9.5 && datum.value % 5 === 0 ? datum.label : ''"}},
            "y": {"field": "z", "type": "quantitative", "scale": {"domain": [-1.58, 4.44], "nice": false, "zero": false},
              "axis": {"orient": "left", "title": "Z(au)", "format": ".0f",
                "values": [-1.5,-1.4,-1.3,-1.2,-1.1,-1,-0.9,-0.8,-0.7,-0.6,-0.5,-0.4,-0.3,-0.2,-0.1,0,0.1,0.2,0.3,0.4,0.5,0.6,0.7,0.8,0.9,1,1.1,1.2,1.3,1.4,1.5,1.6,1.7,1.8,1.9,2,2.1,2.2,2.3,2.4,2.5,2.6,2.7,2.8,2.9,3,3.1,3.2,3.3,3.4,3.5,3.6,3.7,3.8,3.9,4,4.1,4.2,4.3,4.4],
                "tickSize": {"condition": {"test": "datum.value % 1 === 0", "value": -9}, "value": -4},
                "labelExpr": "datum.value % 1 === 0 ? datum.label : ''"}},
            "color": {"field": "color", "type": "nominal", "scale": {"domain": ["red","blue","green","yellow"], "range": ["#d7282d","#234bab","#1e7d37","#f5c81e"]}, "legend": null},
            "strokeDash": {"field": "kind", "type": "nominal", "scale": {"domain": ["model","parker"], "range": [[1,0],[5,3]]}, "legend": null},
            "detail": {"field": "track", "type": "nominal"},
            "order": {"field": "step", "type": "quantitative"}
          }
        },
        {
          "data": {"name": "xzWide"},
          "mark": {"type": "point", "opacity": 0, "clip": true},
          "encoding": {
            "x": {"field": "x", "type": "quantitative", "scale": {"domain": [-10.05, 10.1], "nice": false, "zero": false},
              "axis": {"orient": "top", "labels": false, "title": null, "values": [-10,-9,-8,-7,-6,-5,-4,-3,-2,-1,0,1,2,3,4,5,6,7,8,9,10],
                "tickSize": {"condition": {"test": "datum.value % 5 === 0", "value": -9}, "value": -5}}},
            "y": {"field": "z", "type": "quantitative", "scale": {"domain": [-1.58, 4.44], "nice": false, "zero": false},
              "axis": {"orient": "right", "labels": false, "title": null,
                "values": [-1.5,-1.4,-1.3,-1.2,-1.1,-1,-0.9,-0.8,-0.7,-0.6,-0.5,-0.4,-0.3,-0.2,-0.1,0,0.1,0.2,0.3,0.4,0.5,0.6,0.7,0.8,0.9,1,1.1,1.2,1.3,1.4,1.5,1.6,1.7,1.8,1.9,2,2.1,2.2,2.3,2.4,2.5,2.6,2.7,2.8,2.9,3,3.1,3.2,3.3,3.4,3.5,3.6,3.7,3.8,3.9,4,4.1,4.2,4.3,4.4],
                "tickSize": {"condition": {"test": "datum.value % 1 === 0", "value": -9}, "value": -4}}}
          }
        },
        {
          "data": {"values": [{"label": "(b)"}]},
          "mark": {"type": "text", "align": "left", "baseline": "middle"},
          "encoding": {
            "x": {"datum": -8.87, "type": "quantitative", "axis": null},
            "y": {"datum": 4.04, "type": "quantitative", "axis": null},
            "text": {"field": "label"}
          }
        }
      ]
    },
    {
      "width": 272, "height": 268,
      "title": {"text": "(c)", "orient": "bottom", "offset": 66},
      "resolve": {"axis": {"x": "independent", "y": "independent"}},
      "layer": [
        {
          "data": {"name": "xyInner"},
          "mark": {"type": "line", "clip": true},
          "encoding": {
            "x": {"field": "x", "type": "quantitative", "scale": {"domain": [-1.005, 0.98], "nice": false, "zero": false},
              "axis": {"orient": "bottom", "title": "X (au)", "format": ".1f", "values": [-0.9,-0.8,-0.7,-0.6,-0.5,-0.4,-0.3,-0.2,-0.1,0,0.1,0.2,0.3,0.4,0.5,0.6,0.7,0.8,0.9],
                "tickSize": {"condition": {"test": "abs(datum.value*2 - round(datum.value*2)) < 0.001", "value": -9}, "value": -5},
                "labelExpr": "abs(datum.value*2 - round(datum.value*2)) < 0.001 ? datum.label : ''"}},
            "y": {"field": "y", "type": "quantitative", "scale": {"domain": [-0.8, 0.964], "nice": false, "zero": false},
              "axis": {"orient": "left", "title": "Y(au)", "titlePadding": -3, "format": ".1f", "values": [-0.7,-0.6,-0.5,-0.4,-0.3,-0.2,-0.1,0,0.1,0.2,0.3,0.4,0.5,0.6,0.7,0.8,0.9],
                "tickSize": {"condition": {"test": "abs(datum.value*2 - round(datum.value*2)) < 0.001", "value": -9}, "value": -5},
                "labelExpr": "abs(datum.value*2 - round(datum.value*2)) < 0.001 ? datum.label : ''"}},
            "color": {"field": "color", "type": "nominal", "scale": {"domain": ["red","blue","green","yellow"], "range": ["#d7282d","#234bab","#1e7d37","#f5c81e"]}, "legend": null},
            "strokeDash": {"field": "kind", "type": "nominal", "scale": {"domain": ["model","parker"], "range": [[1,0],[5,3]]}, "legend": null},
            "detail": {"field": "track", "type": "nominal"},
            "order": {"field": "step", "type": "quantitative"}
          }
        },
        {
          "data": {"name": "xyInner"},
          "mark": {"type": "point", "opacity": 0, "clip": true},
          "encoding": {
            "x": {"field": "x", "type": "quantitative", "scale": {"domain": [-1.005, 0.98], "nice": false, "zero": false},
              "axis": {"orient": "top", "labels": false, "title": null, "values": [-0.9,-0.8,-0.7,-0.6,-0.5,-0.4,-0.3,-0.2,-0.1,0,0.1,0.2,0.3,0.4,0.5,0.6,0.7,0.8,0.9],
                "tickSize": {"condition": {"test": "abs(datum.value*2 - round(datum.value*2)) < 0.001", "value": -9}, "value": -5}}},
            "y": {"field": "y", "type": "quantitative", "scale": {"domain": [-0.8, 0.964], "nice": false, "zero": false},
              "axis": {"orient": "right", "labels": false, "title": null, "values": [-0.7,-0.6,-0.5,-0.4,-0.3,-0.2,-0.1,0,0.1,0.2,0.3,0.4,0.5,0.6,0.7,0.8,0.9],
                "tickSize": {"condition": {"test": "abs(datum.value*2 - round(datum.value*2)) < 0.001", "value": -9}, "value": -5}}}
          }
        },
        {
          "data": {"values": [{"label": "(c)"}]},
          "mark": {"type": "text", "align": "left", "baseline": "middle"},
          "encoding": {
            "x": {"datum": -0.94, "type": "quantitative", "axis": null},
            "y": {"datum": 0.88, "type": "quantitative", "axis": null},
            "text": {"field": "label"}
          }
        }
      ]
    },
    {
      "width": 268, "height": 270,
      "title": {"text": "(d)", "orient": "bottom", "offset": 66},
      "resolve": {"axis": {"x": "independent", "y": "independent"}},
      "layer": [
        {
          "data": {"name": "xzInner"},
          "mark": {"type": "line", "clip": true},
          "encoding": {
            "x": {"field": "x", "type": "quantitative", "scale": {"domain": [-0.92, 0.89], "nice": false, "zero": false},
              "axis": {"orient": "bottom", "title": "X (au)", "format": ".1f", "values": [-0.9,-0.8,-0.7,-0.6,-0.5,-0.4,-0.3,-0.2,-0.1,0,0.1,0.2,0.3,0.4,0.5,0.6,0.7,0.8],
                "tickSize": {"condition": {"test": "abs(datum.value*2 - round(datum.value*2)) < 0.001", "value": -9}, "value": -5},
                "labelExpr": "abs(datum.value*2 - round(datum.value*2)) < 0.001 ? datum.label : ''"}},
            "y": {"field": "z", "type": "quantitative", "scale": {"domain": [-0.032, 0.123], "nice": false, "zero": false},
              "axis": {"orient": "left", "title": "Z(au)", "format": ".2f",
                "values": [-0.03,-0.025,-0.02,-0.015,-0.01,-0.005,0,0.005,0.01,0.015,0.02,0.025,0.03,0.035,0.04,0.045,0.05,0.055,0.06,0.065,0.07,0.075,0.08,0.085,0.09,0.095,0.1,0.105,0.11,0.115,0.12],
                "tickSize": {"condition": {"test": "abs(datum.value*50 - round(datum.value*50)) < 0.001", "value": -9}, "value": -4},
                "labelExpr": "abs(datum.value*50 - round(datum.value*50)) < 0.001 ? datum.label : ''"}},
            "color": {"field": "color", "type": "nominal", "scale": {"domain": ["red","blue","green","yellow"], "range": ["#d7282d","#234bab","#1e7d37","#f5c81e"]}, "legend": null},
            "strokeDash": {"field": "kind", "type": "nominal", "scale": {"domain": ["model","parker"], "range": [[1,0],[5,3]]}, "legend": null},
            "detail": {"field": "track", "type": "nominal"},
            "order": {"field": "step", "type": "quantitative"}
          }
        },
        {
          "data": {"name": "xzInner"},
          "mark": {"type": "point", "opacity": 0, "clip": true},
          "encoding": {
            "x": {"field": "x", "type": "quantitative", "scale": {"domain": [-0.92, 0.89], "nice": false, "zero": false},
              "axis": {"orient": "top", "labels": false, "title": null, "values": [-0.9,-0.8,-0.7,-0.6,-0.5,-0.4,-0.3,-0.2,-0.1,0,0.1,0.2,0.3,0.4,0.5,0.6,0.7,0.8],
                "tickSize": {"condition": {"test": "abs(datum.value*2 - round(datum.value*2)) < 0.001", "value": -9}, "value": -5}}},
            "y": {"field": "z", "type": "quantitative", "scale": {"domain": [-0.032, 0.123], "nice": false, "zero": false},
              "axis": {"orient": "right", "labels": false, "title": null,
                "values": [-0.03,-0.025,-0.02,-0.015,-0.01,-0.005,0,0.005,0.01,0.015,0.02,0.025,0.03,0.035,0.04,0.045,0.05,0.055,0.06,0.065,0.07,0.075,0.08,0.085,0.09,0.095,0.1,0.105,0.11,0.115,0.12],
                "tickSize": {"condition": {"test": "abs(datum.value*50 - round(datum.value*50)) < 0.001", "value": -9}, "value": -4}}}
          }
        },
        {
          "data": {"values": [{"label": "(d)"}]},
          "mark": {"type": "text", "align": "left", "baseline": "middle"},
          "encoding": {
            "x": {"datum": -0.87, "type": "quantitative", "axis": null},
            "y": {"datum": 0.1165, "type": "quantitative", "axis": null},
            "text": {"field": "label"}
          }
        }
      ]
    }
  ]
}
